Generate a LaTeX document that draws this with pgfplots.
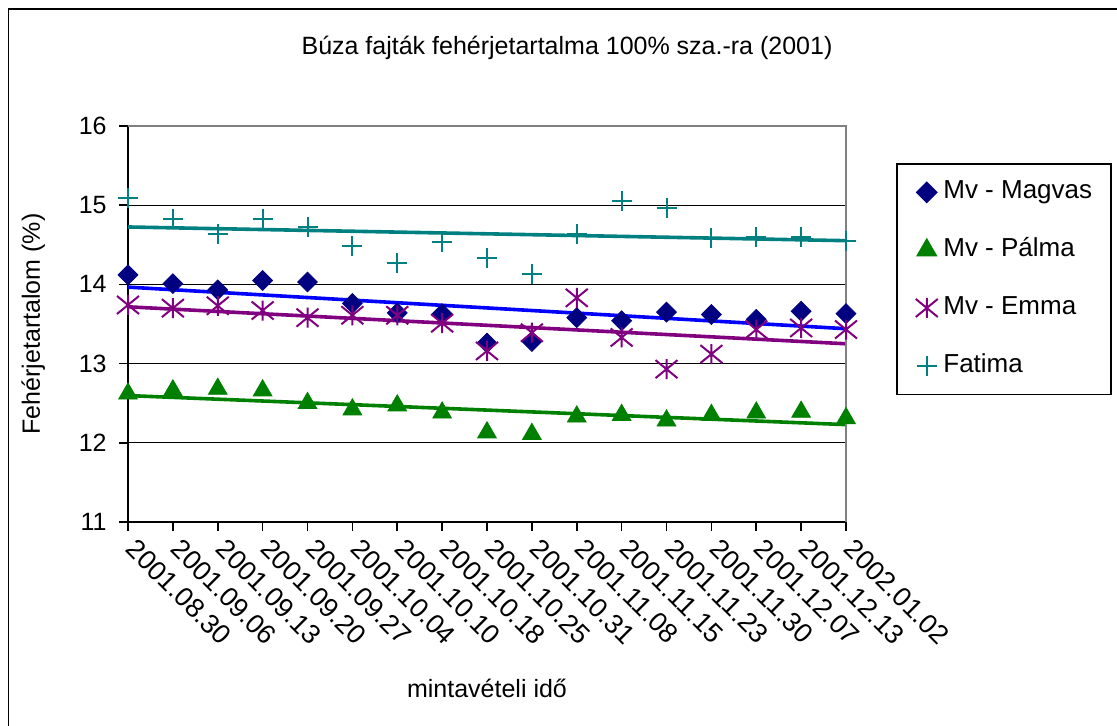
\documentclass[border=0pt]{standalone}
\usepackage{pgfplots}
\pgfplotsset{compat=1.18}
\usepackage{pgfplotstable}
\usepackage{fontspec}
\setmainfont{Liberation Sans}
\definecolor{cMag}{RGB}{0,0,128}
\definecolor{cPal}{RGB}{0,128,0}
\definecolor{cEmm}{RGB}{128,0,128}
\definecolor{cFat}{RGB}{0,128,128}
\definecolor{cMagT}{RGB}{0,0,255}
\definecolor{cBord}{RGB}{128,128,128}
\pgfdeclareplotmark{xstar}{%
  \pgfpathmoveto{\pgfqpoint{-1.1\pgfplotmarksize}{-0.9\pgfplotmarksize}}%
  \pgfpathlineto{\pgfqpoint{1.1\pgfplotmarksize}{0.9\pgfplotmarksize}}%
  \pgfpathmoveto{\pgfqpoint{-1.1\pgfplotmarksize}{0.9\pgfplotmarksize}}%
  \pgfpathlineto{\pgfqpoint{1.1\pgfplotmarksize}{-0.9\pgfplotmarksize}}%
  \pgfpathmoveto{\pgfqpoint{0pt}{-\pgfplotmarksize}}%
  \pgfpathlineto{\pgfqpoint{0pt}{\pgfplotmarksize}}%
  \pgfusepathqstroke}
\pgfplotstableread{
x mag pal emm fat
0 14.12 12.62 13.74 15.09
1 14.01 12.66 13.70 14.83
2 13.93 12.68 13.73 14.63
3 14.05 12.66 13.67 14.83
4 14.03 12.50 13.58 14.73
5 13.76 12.42 13.61 14.49
6 13.64 12.47 13.61 14.27
7 13.63 12.38 13.51 14.54
8 13.26 12.13 13.16 14.33
9 13.28 12.11 13.39 14.13
10 13.58 12.33 13.83 14.63
11 13.54 12.35 13.33 15.05
12 13.65 12.28 12.93 14.97
13 13.62 12.35 13.12 14.58
14 13.56 12.38 13.43 14.60
15 13.66 12.39 13.45 14.60
16 13.63 12.31 13.43 14.55
}\data
\newcommand{\cf}{\fontsize{12.5}{15}\selectfont}
\begin{document}
\begin{tikzpicture}
\useasboundingbox (0,0) rectangle (558.5pt,363pt);
\draw[black, line width=0.8pt] (4.2pt,358.5pt) rectangle (570pt,-10pt);
\node[font=\cf] at (283.5pt,339pt) {Búza fajták fehérjetartalma 100\% sza.-ra (2001)};
\begin{axis}[
  at={(64pt,102pt)}, anchor=south west,
  width=359pt, height=198pt, scale only axis,
  xmin=0, xmax=16, ymin=11, ymax=16,
  axis x line*=bottom, axis y line*=left,
  axis line style={black, line width=0.8pt, -},
  tick align=outside, major tick length=4.5pt,
  tick style={black, line width=0.8pt},
  xtick={0,...,16},
  xticklabels={2001.08.30,2001.09.06,2001.09.13,2001.09.20,2001.09.27,2001.10.04,2001.10.10,2001.10.18,2001.10.25,2001.10.31,2001.11.08,2001.11.15,2001.11.23,2001.11.30,2001.12.07,2001.12.13,2002.01.02},
  ytick={11,12,13,14,15,16},
  ymajorgrids, grid style={black, line width=0.5pt},
  ticklabel style={font=\cf},
  /pgf/number format/assume math mode=true,
  xticklabel style={font=\fontsize{13.5}{16}\selectfont, xshift=5pt, yshift=-3pt, rotate=-45, anchor=north west, inner sep=0pt},
  yticklabel style={anchor=east, inner sep=0pt, xshift=-6pt},
  xlabel={mintavételi idő},
  xlabel style={font=\cf, at={(axis description cs:0.5,-0.42)}, anchor=center},
  ylabel={Fehérjetartalom (\%)},
  ylabel style={font=\cf, at={(axis description cs:-0.132,0.5)}, anchor=center},
  legend style={at={(axis description cs:1.0696,0.9066)}, anchor=north west,
    draw=black, line width=0.8pt, font=\fontsize{13}{15}\selectfont, inner xsep=9.5pt, inner ysep=8.5pt,
    row sep=17.3pt, column sep=2.8pt,
    nodes={inner sep=0pt, text height=9pt, text depth=2.6pt}},
  legend cell align=left,
  legend image code/.code={\draw[mark repeat=2,mark phase=2,#1] plot coordinates {(0pt,0pt) (5.35pt,0pt) (10.7pt,0pt)};},
  clip=false,
]
\addplot[only marks, mark=square*, mark size=3.5pt, mark options={rotate=45, fill=cMag, draw=cMag}] table[x=x,y=mag]{\data};
\addlegendentry{Mv - Magvas}
\addplot[only marks, mark=triangle*, mark size=5.4pt, mark options={fill=cPal, draw=cPal}] table[x=x,y=pal]{\data};
\addlegendentry{Mv - Pálma}
\addplot[only marks, mark=xstar, mark size=5pt, mark options={draw=cEmm, line width=1pt}] table[x=x,y=emm]{\data};
\addlegendentry{Mv - Emma}
\addplot[only marks, mark=+, mark size=5pt, mark options={draw=cFat, line width=1pt}] table[x=x,y=fat]{\data};
\addlegendentry{Fatima}
\addplot[cMagT, line width=1.8pt, no marks, forget plot] table[x=x, y={create col/linear regression={y=mag}}]{\data};
\addplot[cPal, line width=1.8pt, no marks, forget plot] table[x=x, y={create col/linear regression={y=pal}}]{\data};
\addplot[cEmm, line width=1.8pt, no marks, forget plot] table[x=x, y={create col/linear regression={y=emm}}]{\data};
\addplot[cFat, line width=1.8pt, no marks, forget plot] table[x=x, y={create col/linear regression={y=fat}}]{\data};
\draw[cBord, line width=0.8pt] (rel axis cs:0,1) -- (rel axis cs:1,1) -- (rel axis cs:1,0);
\end{axis}
\end{tikzpicture}
\end{document}
